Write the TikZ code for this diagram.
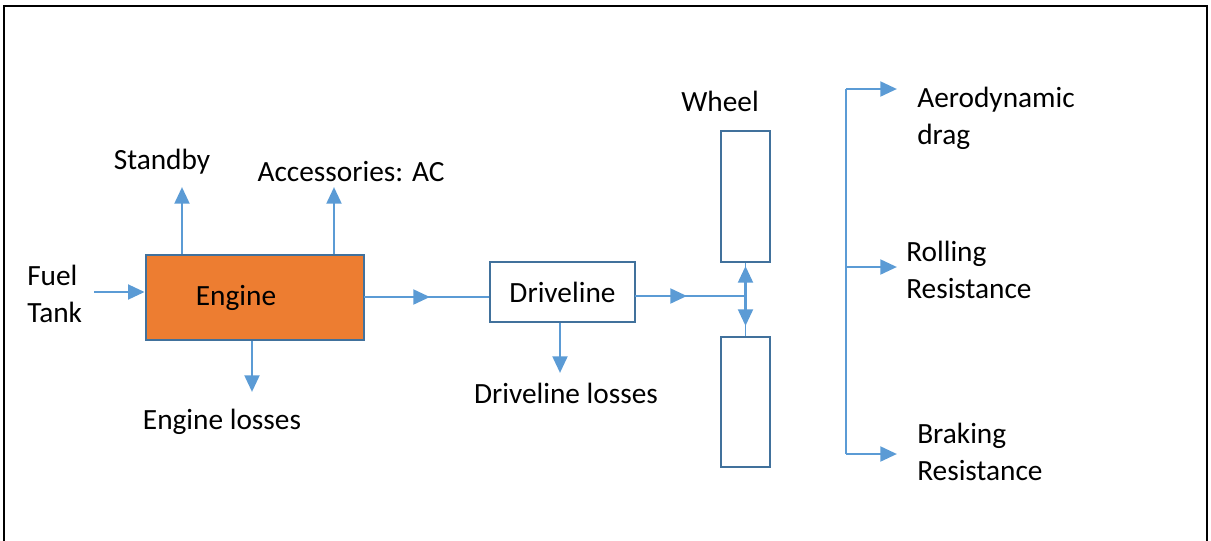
\documentclass[tikz,border=0pt]{standalone}
\usepackage{fontspec}
\setmainfont{Carlito}
\usetikzlibrary{arrows.meta}
\definecolor{ablue}{HTML}{5B9BD5}
\definecolor{bblue}{HTML}{41719C}
\definecolor{eorange}{HTML}{ED7D31}
\begin{document}
\begin{tikzpicture}[x=0.75pt,y=-0.75pt,
  lbl/.style={font=\fontsize{22}{27.5}\selectfont, inner sep=0pt, align=left},
  box/.style={draw=bblue, line width=2pt, inner sep=0pt},
  arr/.style={draw=ablue, line width=2.2pt, -{Triangle[length=12.5pt,width=11pt]}},
  darr/.style={draw=ablue, line width=2.2pt, {Triangle[length=12.5pt,width=11pt]}-{Triangle[length=12.5pt,width=11pt]}},
  thin/.style={draw=ablue, line width=1.1pt}]
\useasboundingbox (0,0) rectangle (1211,540);
% frame
\draw[black, line width=2pt] (4,541) -- (4,6) -- (1207,6) -- (1207,541);
% boxes
\node[box, fill=eorange, minimum width=163.5pt, minimum height=63.75pt] (engine) at (255,297.5) {};
\node[lbl] (enginetxt) at (236,298) {Engine};
\node[box, fill=white, minimum width=108.75pt, minimum height=45pt, font=\fontsize{22}{27.5}\selectfont] (driveline) at (562.5,292) {Driveline};
\node[box, minimum width=36.75pt, minimum height=98.25pt] (wheelA) at (745.5,196.5) {};
\node[box, minimum width=36.75pt, minimum height=97.5pt] (wheelB) at (745.5,402) {};
% labels
\node[lbl, anchor=west] (fuel) at (27,294) {Fuel\\Tank};
\node[lbl] (standby) at (162,162) {Standby};
\node[lbl] (acc) at (351,172) {Accessories: AC};
\node[lbl] (elosses) at (222,422) {Engine losses};
\node[lbl] (dlosses) at (566,393) {Driveline losses};
\node[lbl] (wheel) at (720,101) {Wheel};
\node[lbl, anchor=west] (aero) at (917,118) {Aerodynamic\\drag};
\node[lbl, anchor=west] (roll) at (906,270) {Rolling\\Resistance};
\node[lbl, anchor=west] (brake) at (917,452) {Braking\\Resistance};
% coordinates
\coordinate (fs) at (94,292);
\coordinate (sb) at (182,187);
\coordinate (ac) at (334,187);
\coordinate (el) at (252,392);
\coordinate (e1) at (364,297);
\coordinate (e2) at (430,297);
\coordinate (dl) at (560,373);
\coordinate (d1) at (635,296);
\coordinate (d2) at (687,296);
\coordinate (j) at (745.5,296);
\coordinate (jt) at (745.5,266);
\coordinate (jb) at (745.5,326);
\coordinate (bt) at (846,89);
\coordinate (bm) at (846,267);
\coordinate (bb) at (846,454);
% connectors
\draw[arr] (fs) -- (fs -| engine.west);
\draw[arr] (sb |- engine.north) -- (sb);
\draw[arr] (ac |- engine.north) -- (ac);
\draw[arr] (el |- engine.south) -- (el);
\draw[thin] (e1) -- (e2) -- (e2 -| driveline.west);
\draw[arr] (e1) -- (e2);
\draw[arr] (dl |- driveline.south) -- (dl);
\draw[thin] (d1) -- (j);
\draw[arr] (d1) -- (d2);
\draw[thin] (wheelA.south) -- (wheelB.north);
\draw[darr] (jt) -- (jb);
\draw[thin] (bt) -- (bb);
\draw[arr] (bt) -- ++(51,0);
\draw[arr] (bm) -- ++(51,0);
\draw[arr] (bb) -- ++(51,0);
\end{tikzpicture}
\end{document}
